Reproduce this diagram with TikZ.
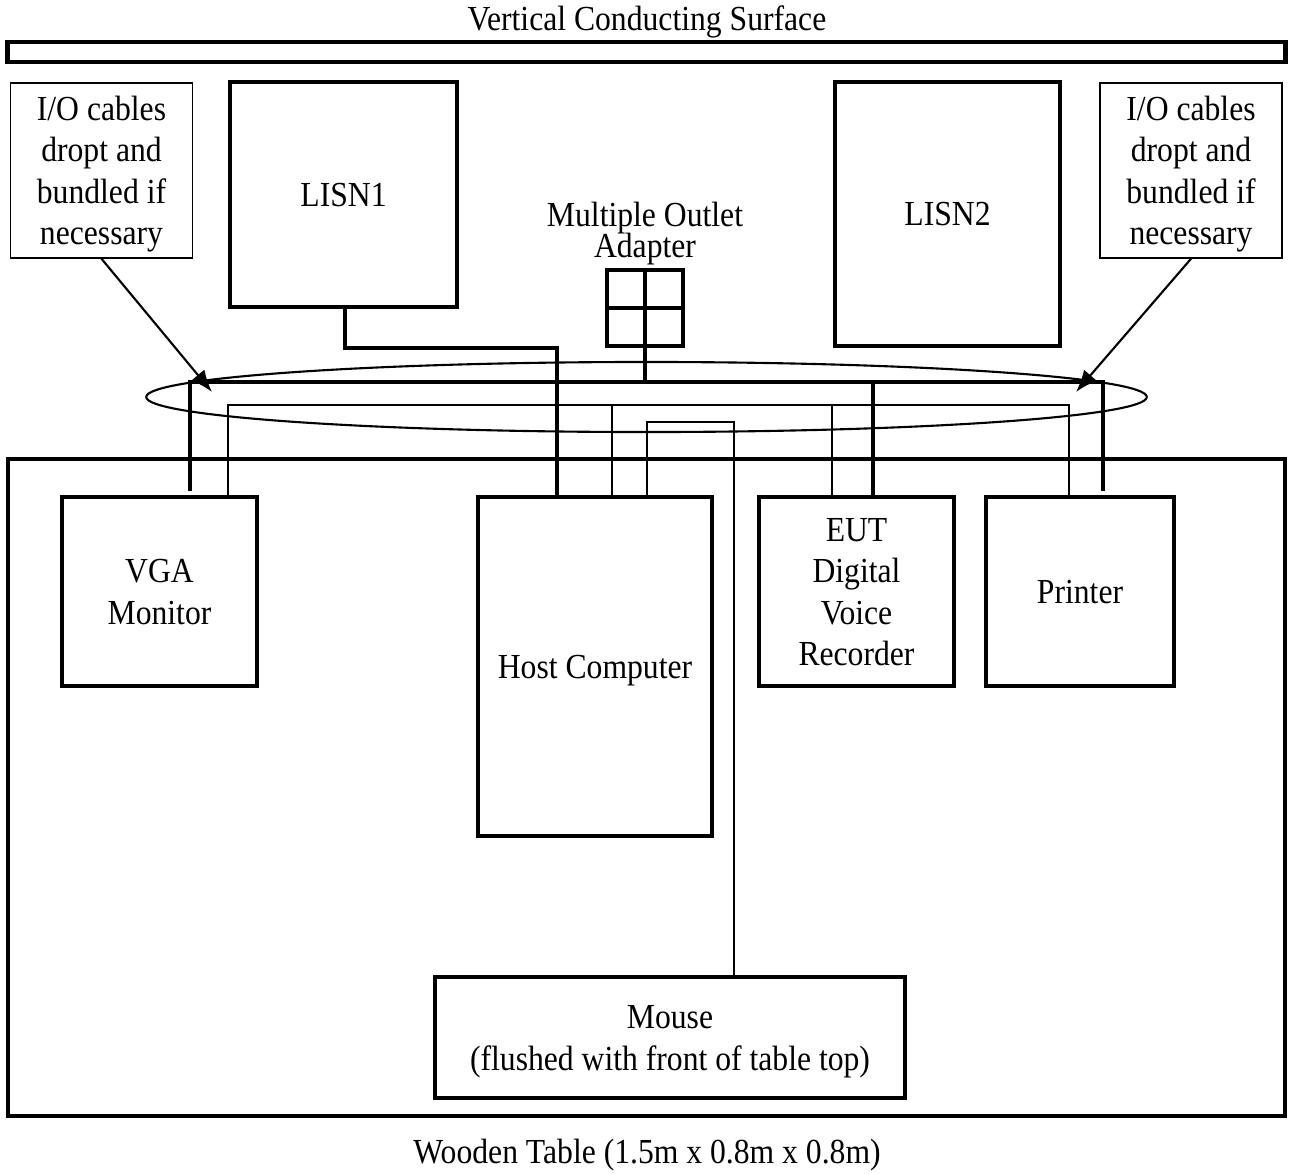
\documentclass[tikz,border=0pt]{standalone}
\usepackage{fontspec}
\setmainfont{Liberation Serif}[FakeStretch=0.9]
\usetikzlibrary{positioning,calc,arrows.meta,shapes.geometric}
\newcommand{\ls}{\rule[-2.2pt]{0pt}{11.1pt}}

\begin{document}
\begin{tikzpicture}[x=0.01cm, y=-0.01cm, font=\fontsize{10pt}{11.8pt}\selectfont,
    unit/.style={draw, line width=1.1pt, rectangle, inner sep=0pt, align=center},
    notebox/.style={draw, line width=0.4pt, rectangle, inner sep=0pt, align=center,
      minimum width=1.82cm, minimum height=1.75cm},
    power/.style={line width=1.2pt},
    signal/.style={line width=0.55pt},
    pointer/.style={line width=0.6pt, -{Latex[length=2.2mm, width=1.7mm]}}]
    \useasboundingbox (0,0) rectangle (1289,1173);
    % wall and table
    \node (walltext) at (647,19) {\ls Vertical Conducting Surface};%
    \node[unit, line width=1.4pt, minimum width=12.77cm, minimum height=0.2cm] (wall) at (646.5,52) {};%
    \node[unit, minimum width=12.77cm, minimum height=6.57cm] (table) at (646.5,787.5) {};%
    \node (tabletext) at (647,1152) {\ls Wooden Table (1.5m x 0.8m x 0.8m)};%
    % notes, LISNs and outlet
    \node[notebox] (leftnote) at (101.5,170.5) {\ls I/O cables\\dropt and\\bundled if\\necessary\ls};%
    \node[notebox] (rightnote) at (1191,170.5) {\ls I/O cables\\dropt and\\bundled if\\necessary\ls};%
    \node[unit, minimum width=2.27cm, minimum height=2.25cm] (lisnone) at (343.5,194.5) {\ls LISN1};%
    \node[unit, minimum width=2.25cm, minimum height=2.64cm] (lisntwo) at (947.5,214) {\ls LISN2};%
    \node[unit, minimum size=0.76cm] (outlet) at (645,308) {};%
    \node[align=center] (outlettext) at (645,230) {\ls Multiple Outlet\\[-3pt]Adapter\ls};%
    \draw[power] (outlet.north) -- (outlet.south) (outlet.west) -- (outlet.east);
    % devices on the table
    \node[unit, minimum width=1.95cm, minimum height=1.89cm] (vga) at (159.5,591.5) {\ls VGA\\Monitor\ls};%
    \node[unit, minimum width=2.34cm, minimum height=3.39cm] (host) at (595,666.5) {\ls Host Computer};%
    \node[unit, minimum width=1.95cm, minimum height=1.89cm] (eut) at (856.5,591.5) {\ls EUT\\Digital\\Voice\\Recorder\ls};%
    \node[unit, minimum width=1.88cm, minimum height=1.89cm] (printer) at (1080,591.5) {\ls Printer};%
    \node[unit, minimum width=4.70cm, minimum height=1.21cm] (mouse) at (670,1037.5) {\ls Mouse\\(flushed with front of table top)\ls};%
    \node[draw, ellipse, line width=0.6pt, inner sep=0pt, minimum width=10cm, minimum height=0.7cm] (bundle) at (646.5,397) {};%
    % cable corners
    \coordinate (busl) at (190,382);
    \coordinate (busr) at (1103,382);
    \coordinate (sigl) at (228,405);
    \coordinate (sigr) at (1069,405);
    \coordinate (mousebend) at (734,422);
    \coordinate (lefttip) at (212,392);
    \coordinate (righttip) at (1076,392);
    % power cables
    \draw[power] ([yshift=0.04cm]busl |- vga.north) -- (busl) -- (busr) -- ([yshift=0.04cm]busr |- printer.north);
    \draw[power] (outlet.south) -- (outlet.south |- busl);
    \draw[power] ([xshift=0.165cm]eut.north) -- ([xshift=0.165cm]eut.north |- busl);
    \draw[power] ([xshift=0.015cm]lisnone.south) |- ([xshift=-0.38cm]host.north |- outlet.south) -- ([xshift=-0.38cm]host.north);
    % signal cables
    \draw[signal] (sigl |- vga.north) -- (sigl) -- (sigr) -- (sigr |- printer.north);
    \draw[signal] ([xshift=1.36cm]host.north west) -- ([xshift=1.36cm]host.north west |- sigl);
    \draw[signal] ([xshift=0.75cm]eut.north west) -- ([xshift=0.75cm]eut.north west |- sigl);
    \draw[signal] ([xshift=1.71cm]host.north west) |- (mousebend) -- (mousebend |- mouse.north);
    % notes
    \draw[pointer] (leftnote.south) -- (lefttip);
    \draw[pointer] (rightnote.south) -- (righttip);
  \end{tikzpicture}
\end{document}
